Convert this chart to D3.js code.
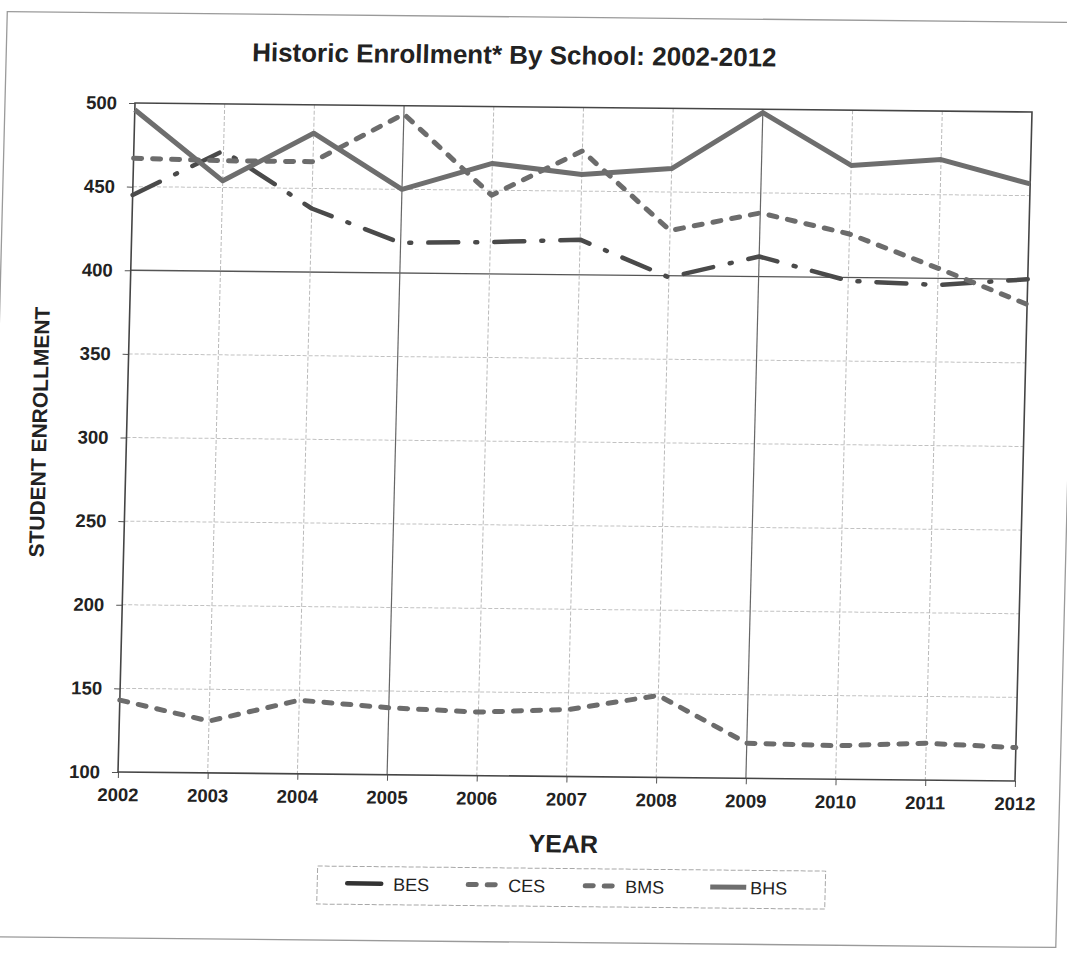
<!DOCTYPE html>
<html>
<head>
<meta charset="utf-8">
<script src="https://cdn.jsdelivr.net/npm/d3@7"></script>
<style>
  html, body { margin: 0; padding: 0; background: #fff; }
  svg { display: block; }
  text { font-family: "Liberation Sans", Arial, sans-serif; fill: #222; }
</style>
</head>
<body>
<svg id="chart" width="1067" height="953"></svg>
<script>
// Enrollment by school, 2002-2012
const years = [2002, 2003, 2004, 2005, 2006, 2007, 2008, 2009, 2010, 2011, 2012];
const schoolNames = ["BES", "CES", "BMS", "BHS"];
const besEnrollment = [445, 472, 438, 418, 419, 421, 399, 412, 398, 396, 400];
const cesEnrollment = [143, 131, 144, 140, 138, 140, 149, 121, 120, 122, 120];
const bmsEnrollment = [467, 466, 466, 495, 447, 474, 427, 438, 426, 406, 385];
const bhsEnrollment = [496, 454, 483, 450, 466, 460, 464, 498, 467, 471, 457];
const enrollmentTicks = [100, 150, 200, 250, 300, 350, 400, 450, 500];

const titleText = "Historic Enrollment* By School: 2002-2012";
const yTitleText = "STUDENT ENROLLMENT";
const xTitleText = "YEAR";

// Line styling per school
const lineStyles = {
  BES: { color: "#4a4a4a", width: 4.5, dash: "30,17,2,17", cap: "round" },
  CES: { color: "#6c6c6c", width: 5, dash: "8,11", cap: "round" },
  BMS: { color: "#6c6c6c", width: 5, dash: "8,11", cap: "round" },
  BHS: { color: "#6e6e6e", width: 5, dash: null, cap: "butt" }
};

const seriesValues = [besEnrollment, cesEnrollment, bmsEnrollment, bhsEnrollment];
const series = schoolNames.map((name, i) => ({
  name,
  points: years.map((yr, j) => ({ year: yr, value: seriesValues[i][j] }))
}));

const W = 897, H = 669;
const svg = d3.select("#chart");

// The printed sheet sits slightly askew
const g = svg.append("g")
  .attr("transform", `matrix(1, ${9 / W}, ${-17 / H}, 1, 135, 103)`);

// Outer frame of the sheet
g.append("rect")
  .attr("x", -130).attr("y", -90)
  .attr("width", 1072).attr("height", 925)
  .attr("fill", "none")
  .attr("stroke", "#9a9a9a")
  .attr("stroke-width", 1.3);

const x = d3.scaleLinear().domain([2002, 2012]).range([0, W]);
const y = d3.scaleLinear().domain([100, 500]).range([H, 0]);

// Gridlines
const strongY = [400];
const strongX = [2005, 2009];
g.append("g").selectAll("line")
  .data(enrollmentTicks.filter(v => v !== 100 && v !== 500))
  .join("line")
  .attr("x1", 0).attr("x2", W)
  .attr("y1", d => y(d)).attr("y2", d => y(d))
  .attr("stroke", d => strongY.includes(d) ? "#555" : "#c2c2c2")
  .attr("stroke-width", d => strongY.includes(d) ? 1.3 : 1)
  .attr("stroke-dasharray", d => strongY.includes(d) ? null : "4,2");

g.append("g").selectAll("line")
  .data(years.filter(v => v !== 2002 && v !== 2012))
  .join("line")
  .attr("x1", d => x(d)).attr("x2", d => x(d))
  .attr("y1", 0).attr("y2", H)
  .attr("stroke", d => strongX.includes(d) ? "#666" : "#bababa")
  .attr("stroke-width", d => strongX.includes(d) ? 1.2 : 1)
  .attr("stroke-dasharray", d => strongX.includes(d) ? null : "4,2");

// Axes
const yAxis = g.append("g")
  .call(d3.axisLeft(y).tickValues(enrollmentTicks).tickSize(6).tickPadding(12));
const xAxis = g.append("g")
  .attr("transform", `translate(0,${H})`)
  .call(d3.axisBottom(x).tickValues(years).tickFormat(d3.format("d")).tickSize(6).tickPadding(10));

[yAxis, xAxis].forEach(ax => {
  ax.select(".domain").remove();
  ax.selectAll(".tick line").attr("stroke", "#555");
  ax.selectAll(".tick text")
    .attr("fill", "#222")
    .style("font-size", "18.5px")
    .style("font-weight", "bold");
});

// Plot border
g.append("rect")
  .attr("x", 0).attr("y", 0).attr("width", W).attr("height", H)
  .attr("fill", "none")
  .attr("stroke", "#454545")
  .attr("stroke-width", 1.6);

// Series lines
const line = d3.line().x(d => x(d.year)).y(d => y(d.value));
g.append("g").selectAll("path")
  .data(series)
  .join("path")
  .attr("d", d => line(d.points))
  .attr("fill", "none")
  .attr("stroke", d => lineStyles[d.name].color)
  .attr("stroke-width", d => lineStyles[d.name].width)
  .attr("stroke-dasharray", d => lineStyles[d.name].dash)
  .attr("stroke-linecap", d => lineStyles[d.name].cap)
  .attr("stroke-linejoin", "round");

// Titles
g.append("text")
  .attr("x", 378).attr("y", -43)
  .attr("text-anchor", "middle")
  .style("font-size", "26px")
  .style("font-weight", "bold")
  .text(titleText);

g.append("text")
  .attr("transform", "translate(-80,330) rotate(-90)")
  .attr("text-anchor", "middle")
  .style("font-size", "21px")
  .style("font-weight", "bold")
  .text(yTitleText);

g.append("text")
  .attr("x", 447).attr("y", 745)
  .attr("text-anchor", "middle")
  .style("font-size", "25px")
  .style("font-weight", "bold")
  .text(xTitleText);

// Legend
const legend = g.append("g").attr("transform", "translate(202,761)");
legend.append("rect")
  .attr("width", 508).attr("height", 38)
  .attr("fill", "none")
  .attr("stroke", "#a8a8a8")
  .attr("stroke-width", 1)
  .attr("stroke-dasharray", "5,2");

const legendOffsets = [28, 151, 268, 393];
const items = legend.selectAll("g.item")
  .data(series)
  .join("g")
  .attr("class", "item")
  .attr("transform", (d, i) => `translate(${legendOffsets[i]},0)`);

items.append("line")
  .attr("x1", d => d.name === "BES" ? 2 : 0)
  .attr("x2", d => d.name === "BES" ? 36 : 36)
  .attr("y1", 17).attr("y2", 17)
  .attr("stroke", d => d.name === "BES" ? "#333" : lineStyles[d.name].color)
  .attr("stroke-width", d => lineStyles[d.name].width)
  .attr("stroke-dasharray", d => d.name === "BES" ? null : lineStyles[d.name].dash)
  .attr("stroke-linecap", d => lineStyles[d.name].cap);

items.append("text")
  .attr("x", d => d.name === "BES" ? 48 : 40)
  .attr("y", 24)
  .style("font-size", "18px")
  .text(d => d.name);
</script>
</body>
</html>
